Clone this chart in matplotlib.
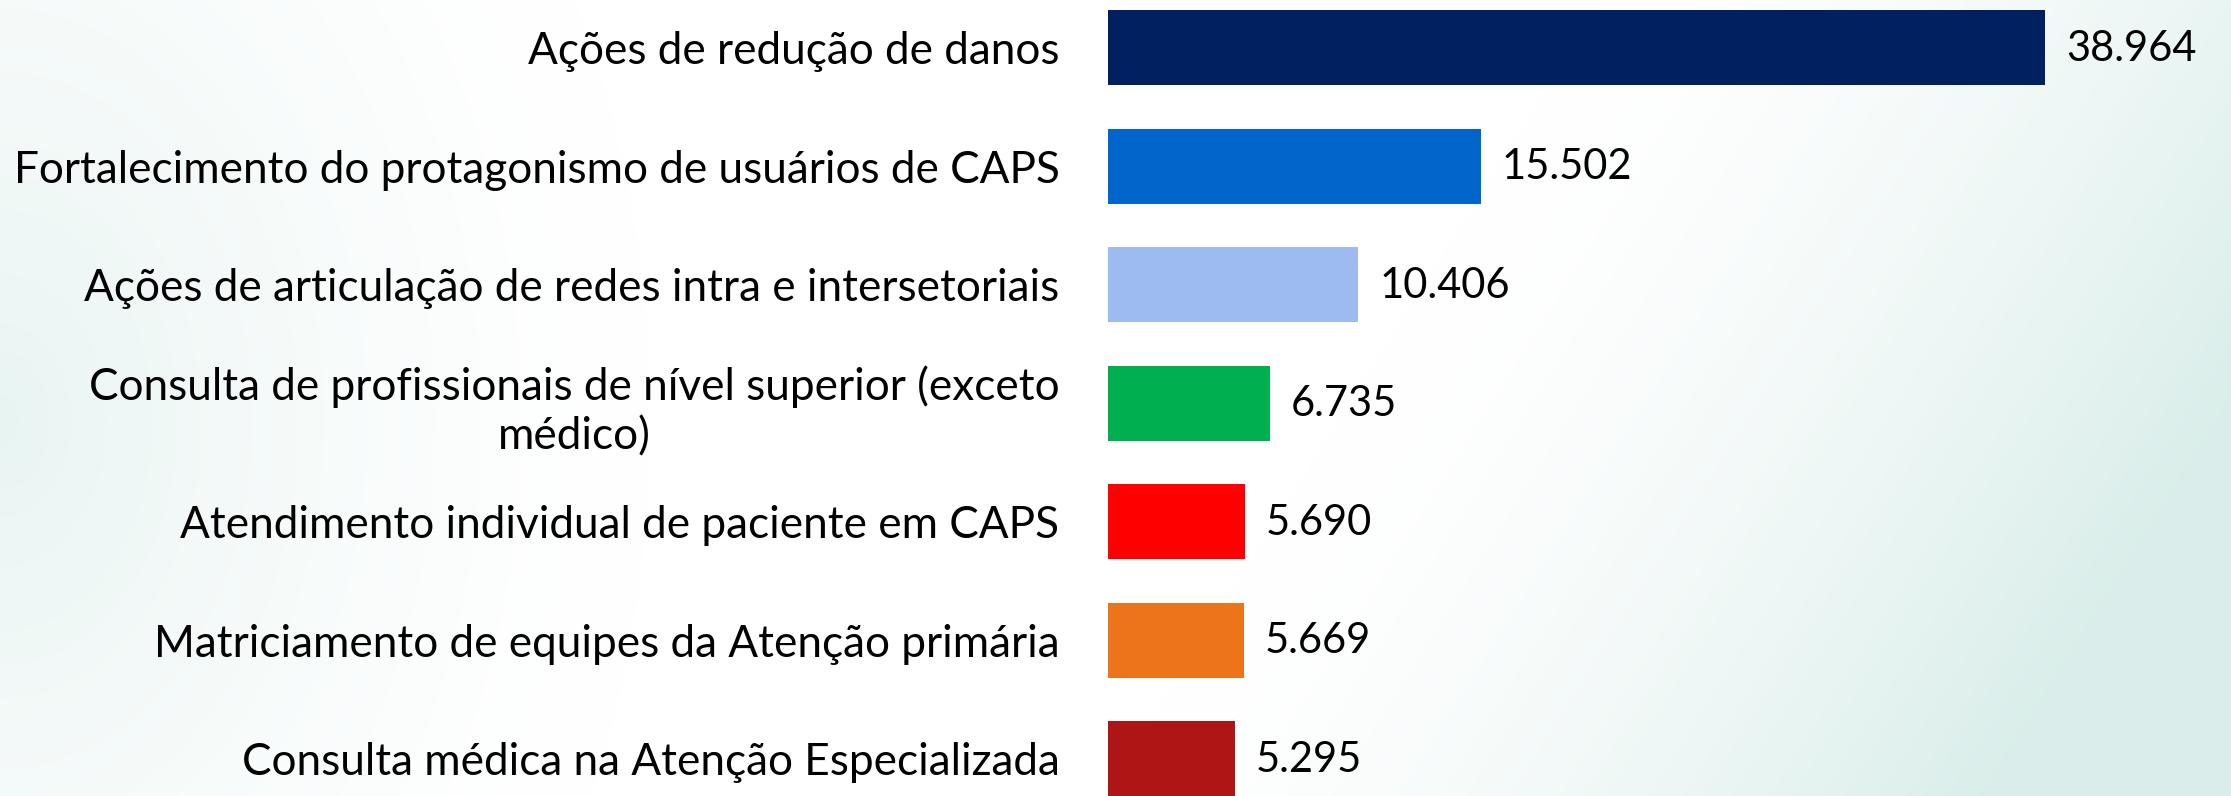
import numpy as np
import matplotlib
import matplotlib.pyplot as plt

categories = ["Ações de redução de danos",
              "Fortalecimento do protagonismo de usuários de CAPS",
              "Ações de articulação de redes intra e intersetoriais",
              "Consulta de profissionais de nível superior (exceto\nmédico)",
              "Atendimento individual de paciente em CAPS",
              "Matriciamento de equipes da Atenção primária",
              "Consulta médica na Atenção Especializada"]
values = [38964, 15502, 10406, 6735, 5690, 5669, 5295]
value_labels = ["38.964", "15.502", "10.406", "6.735", "5.690", "5.669", "5.295"]
colors = ["#002060", "#0066CC", "#9DBBEF", "#00B050", "#FF0000", "#EE741C", "#AE1515"]

W, H = 2231, 796
fig = plt.figure(figsize=(W / 100, H / 100), dpi=100)

# soft teal background like the slide
bg = fig.add_axes([0, 0, 1, 1])
yy, xx = np.mgrid[0:H, 0:W]
r = np.hypot(xx / 650.0, (yy - 420) / 900.0)
wl = np.clip(1 - r, 0, 1) ** 1.5 * 0.55
wr = np.clip((xx - 1350) / 880.0 + (yy - 400) / 1400.0, 0, 1) ** 1.6 * 0.9
w = np.clip(wl + wr, 0, 1)[..., None]
teal = np.array([214, 236, 232]) / 255.0
img = (1 - w) * np.ones(3) + w * teal
bg.imshow(img, aspect="auto", interpolation="bilinear")
bg.axis("off")

ax = fig.add_axes([1108 / W, 0, 1 - 1108 / W, 1])
ax.patch.set_alpha(0)
y = np.arange(len(categories))
ax.barh(y, values, height=0.633, color=colors)
ax.set_xlim(0, 46700)
ax.set_ylim(6.316, -0.401)
ax.set_yticks(y)
ax.set_yticklabels(categories, fontsize=31.8, family="Lato",
                   multialignment="center", linespacing=1.27)
ax.tick_params(axis="y", length=0, pad=35)
ax.set_xticks([])
for s in ax.spines.values():
    s.set_visible(False)
for i, v in enumerate(values):
    ax.annotate(value_labels[i], (v, i), xytext=(15, -1), textcoords="offset points",
                va="center", ha="left", fontsize=30, family="Lato")

fig.savefig("out.png", dpi=100)
